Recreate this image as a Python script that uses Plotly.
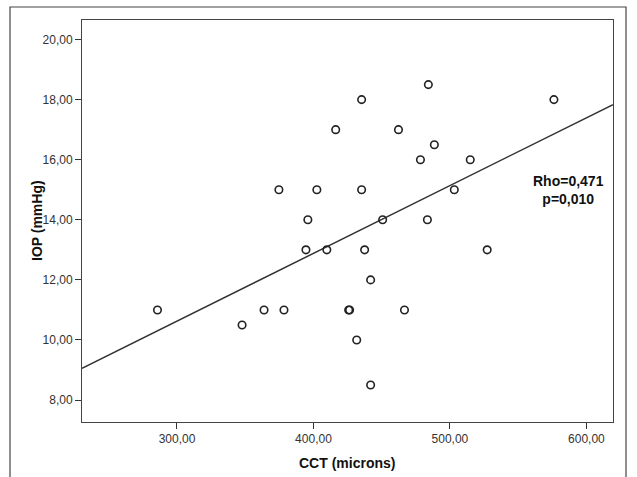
import numpy as np
import plotly.graph_objects as go

# CCT (microns) and IOP (mmHg)
cct = [285.7, 347.7, 363.8, 378.4, 374.7, 395.9, 394.5, 402.5, 409.8, 416.3,
       425.8, 426.5, 431.7, 435.3, 435.3, 437.5, 441.9, 441.9, 450.7, 466.7,
       462.3, 478.4, 483.5, 484.2, 488.6, 503.2, 514.9, 527.3, 576.2]
iop = [11, 10.5, 11, 11, 15, 14, 13, 15, 13, 17,
       11, 11, 10, 18, 15, 13, 12, 8.5, 14, 11,
       17, 16, 14, 18.5, 16.5, 15, 16, 13, 18]

x_ticks = [300, 400, 500, 600]
y_ticks = [8, 10, 12, 14, 16, 18, 20]
x_range = [230.4, 619.5]
y_range = [7.27, 20.65]
x_title = "CCT (microns)"
y_title = "IOP (mmHg)"
stats_text = "Rho=0,471<br>p=0,010"

# linear fit line (as drawn by the statistics package)
slope, intercept = np.polyfit(cct, iop, 1)
fit_x = np.array(x_range)
fit_y = slope * fit_x + intercept

W, H = 637, 477
ML, MR, MT, MB = 82, 24, 20, 55
PW, PH = W - ML - MR, H - MT - MB


def px_x(p):
    return (p - ML) / PW


def px_y(p):
    return (H - MB - p) / PH


fig = go.Figure()
fig.add_trace(go.Scatter(x=fit_x, y=fit_y, mode="lines",
                         line=dict(color="#333333", width=1.5),
                         showlegend=False, hoverinfo="skip"))
fig.add_trace(go.Scatter(x=cct, y=iop, mode="markers",
                         marker=dict(symbol="circle-open", size=7.5,
                                     color="#222222", line=dict(width=1.6)),
                         showlegend=False))

font_family = "Liberation Sans, Arial, sans-serif"
axis_common = dict(showgrid=False, zeroline=False, showline=True, mirror=True,
                   linecolor="#444444", linewidth=1, ticks="outside",
                   ticklen=6, tickwidth=1.2, tickcolor="#333333",
                   tickfont=dict(family=font_family, size=12, color="#333333"),
                   tickformat=".2f", automargin=False)

title_font = dict(family=font_family, size=14, color="#111111")

fig.update_layout(
    width=W, height=H,
    margin=dict(l=ML, r=MR, t=MT, b=MB, pad=0),
    paper_bgcolor="white", plot_bgcolor="white",
    separators=",.",
    xaxis=dict(range=x_range, tickvals=x_ticks, **axis_common),
    yaxis=dict(range=y_range, tickvals=y_ticks, **axis_common),
    annotations=[
        dict(text="<b>" + stats_text + "</b>", x=px_x(568), y=px_y(190),
             xref="paper", yref="paper", showarrow=False, align="center",
             xanchor="center", yanchor="middle", font=title_font),
        dict(text="<b>" + x_title + "</b>", x=px_x(347), y=px_y(463),
             xref="paper", yref="paper", showarrow=False,
             xanchor="center", yanchor="middle", font=title_font),
        dict(text="<b>" + y_title + "</b>", x=px_x(37), y=px_y(221),
             xref="paper", yref="paper", showarrow=False, textangle=-90,
             xanchor="center", yanchor="middle", font=title_font),
    ],
    shapes=[dict(type="rect", xref="paper", yref="paper",
                 x0=px_x(10), x1=px_x(626),
                 y0=px_y(490), y1=px_y(7),
                 line=dict(color="#444444", width=1.2), layer="above")],
)

fig.write_html("out.html",
               config={"displayModeBar": False},
               post_script="document.body.style.margin='0';"
                           "document.body.style.overflow='hidden';")
